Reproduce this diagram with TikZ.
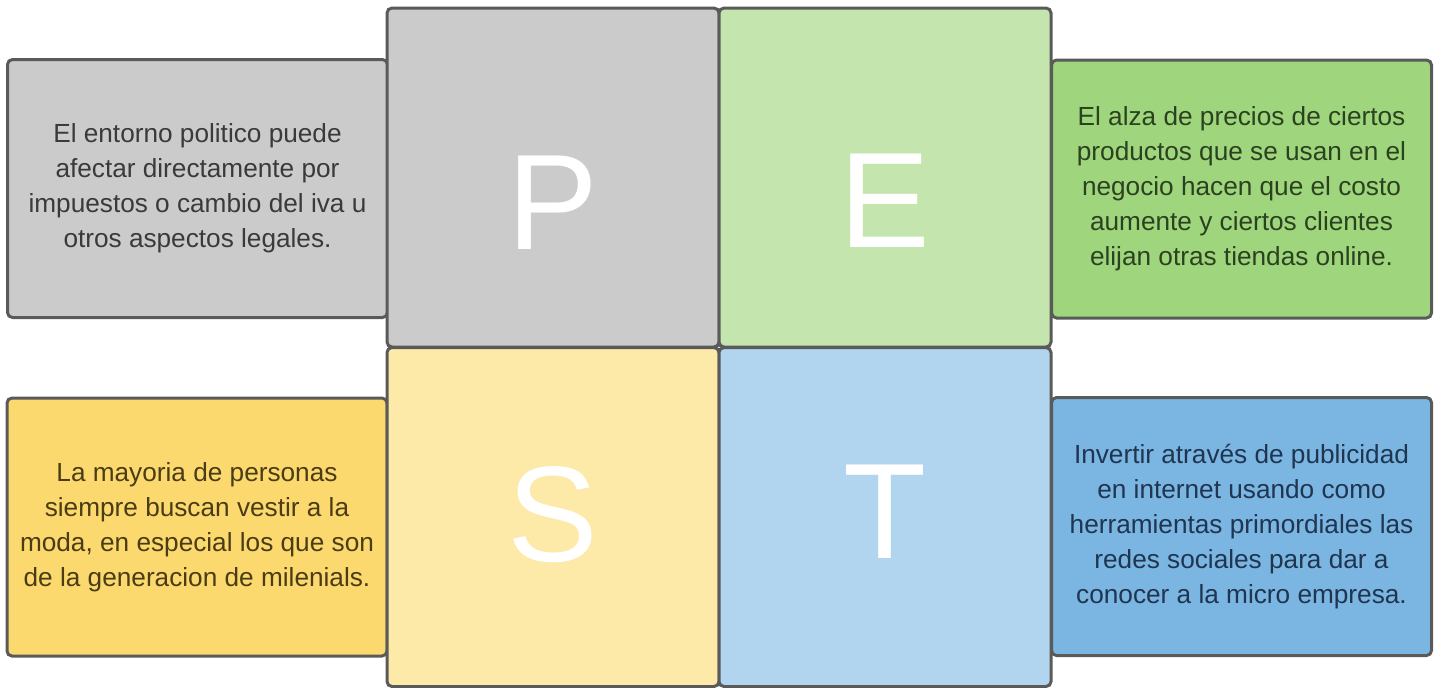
\documentclass[tikz,border=0pt]{standalone}
\usepackage{fontspec}
\setmainfont{Liberation Sans}
\usepackage{xcolor}
\definecolor{borde}{HTML}{5A5A5A}
\definecolor{gris}{HTML}{CBCBCB}
\definecolor{verdeclaro}{HTML}{C5E5AE}
\definecolor{verde}{HTML}{9FD57C}
\definecolor{amarilloclaro}{HTML}{FDE9A8}
\definecolor{amarillo}{HTML}{FCD96E}
\definecolor{azulclaro}{HTML}{B2D5EF}
\definecolor{azul}{HTML}{7BB5E1}
\definecolor{tgris}{HTML}{3A3A3A}
\definecolor{tverde}{HTML}{2B4220}
\definecolor{tamarillo}{HTML}{4A3C14}
\definecolor{tazul}{HTML}{1F3550}
\usetikzlibrary{positioning}

\begin{document}
\begin{tikzpicture}[x=0.5pt,y=-0.5pt,
    cuadro/.style={draw=borde, line width=1.5pt, rounded corners=2.5pt, inner sep=0pt},
    grande/.style={cuadro, minimum width=166pt, minimum height=169.5pt},
    lado/.style={cuadro, minimum width=190pt, minimum height=129pt, align=center,
      font=\fontsize{13.1}{17.5}\selectfont},
    letra/.style={text=white, font=\fontsize{68}{68}\selectfont}]

\useasboundingbox (0,0) rectangle (1439,687);

\node[lado, fill=gris, text=tgris] (pol) at (197.5,188.5)
  {El entorno politico puede\\ afectar directamente por\\ impuestos o cambio del iva u\\ otros aspectos legales.};
\node[lado, fill=verde, text=tverde] (eco) at (1241.5,189)
  {El alza de precios de ciertos\\ productos que se usan en el\\ negocio hacen que el costo\\ aumente y ciertos clientes\\ elijan otras tiendas online.};
\node[lado, fill=amarillo, text=tamarillo] (soc) at (197,527)
  {La mayoria de personas\\ siempre buscan vestir a la\\ moda, en especial los que son\\ de la generacion de milenials.};
\node[lado, fill=azul, text=tazul] (tec) at (1241.5,526.5)
  {Invertir atrav\'es de publicidad\\ en internet usando como\\ herramientas primordiales las\\ redes sociales para dar a\\ conocer a la micro empresa.};

\node[grande, fill=gris] (p) at (553,177.5) {};
\node[grande, fill=verdeclaro] (e) at (885,177.5) {};
\node[grande, fill=amarilloclaro] (s) at (553,517) {};
\node[grande, fill=azulclaro] (t) at (885,517) {};

\node[letra] (lp) at (553,203) {P};
\node[letra] (le) at (885,201) {E};
\node[letra] (ls) at (553,515) {S};
\node[letra] (lt) at (885,512) {T};

\end{tikzpicture}
\end{document}
